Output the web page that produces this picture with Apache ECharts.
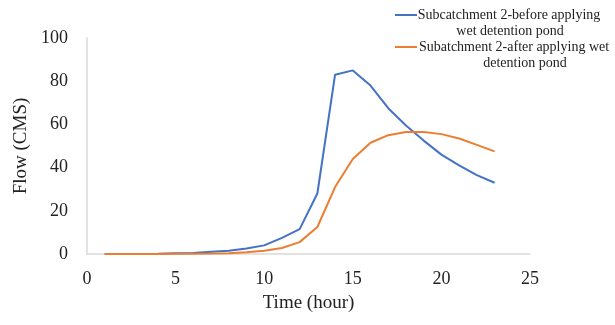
<!DOCTYPE html>
<html><head><meta charset="utf-8">
<script src="https://cdn.jsdelivr.net/npm/echarts@6/dist/echarts.min.js"></script>
<style>html,body{margin:0;padding:0;background:#fff}#c{width:615px;height:325px}</style>
</head><body><div id="c"></div>
<script>
const hours = [1,2,3,4,5,6,7,8,9,10,11,12,13,14,15,16,17,18,19,20,21,22,23];
const before = [0,0,0,0.1,0.3,0.5,1,1.5,2.5,4,7.5,11.5,28,83,85,78,67.5,59.5,52.5,46,41,36.5,33];
const after = [0,0,0,0,0.1,0.1,0.2,0.4,0.8,1.5,2.8,5.5,12.5,31,44,51.5,55,56.5,56.5,55.5,53.5,50.5,47.5];
const seriesNames = ['Subcatchment 2-before applying wet detention pond','Subatchment 2-after applying wet detention pond'];
const legendLines = [['Subcatchment 2-before applying','wet detention pond'],['Subatchment 2-after applying wet','detention pond']];
const colors = ['#4472C4','#ED7D31'];
const font = '"Liberation Serif", "Times New Roman", serif';

const chart = echarts.init(document.getElementById('c'), null, {renderer:'canvas'});
const mk = (vals) => hours.map((h,i)=>[h, vals[i]]);
const lf = '14px ' + font;
chart.setOption({
  animation:false,
  backgroundColor:'#fff',
  grid:{left:87,right:85,top:38,bottom:71},
  xAxis:{type:'value',min:0,max:25,interval:5,name:'Time (hour)',nameLocation:'middle',nameGap:40,
    nameTextStyle:{fontFamily:font,fontSize:19,color:'#222'},
    axisLine:{lineStyle:{color:'#d9d9d9',width:1.5}},axisTick:{show:false},splitLine:{show:false},
    axisLabel:{fontFamily:font,fontSize:18,color:'#222',margin:16}},
  yAxis:{type:'value',min:0,max:100,interval:20,name:'Flow (CMS)',nameLocation:'middle',nameGap:54,
    nameTextStyle:{fontFamily:font,fontSize:19,color:'#222'},
    axisLine:{show:true,lineStyle:{color:'#d9d9d9',width:1.5}},axisTick:{show:false},splitLine:{show:false},
    axisLabel:{fontFamily:font,fontSize:18,color:'#222',margin:19}},
  series:[
    {name:seriesNames[0],type:'line',data:mk(before),showSymbol:false,lineStyle:{color:colors[0],width:2},itemStyle:{color:colors[0]}},
    {name:seriesNames[1],type:'line',data:mk(after),showSymbol:false,lineStyle:{color:colors[1],width:2},itemStyle:{color:colors[1]}}
  ],
  graphic:[
    {type:'line',shape:{x1:395,y1:15,x2:417,y2:15},style:{stroke:colors[0],lineWidth:2}},
    {type:'text',x:509,y:15,style:{text:legendLines[0][0],font:lf,fill:'#222',textAlign:'center',textVerticalAlign:'middle'}},
    {type:'text',x:510,y:31,style:{text:legendLines[0][1],font:lf,fill:'#222',textAlign:'center',textVerticalAlign:'middle'}},
    {type:'line',shape:{x1:395,y1:47,x2:417,y2:47},style:{stroke:colors[1],lineWidth:2}},
    {type:'text',x:419,y:47,style:{text:legendLines[1][0],font:lf,fill:'#222',textAlign:'left',textVerticalAlign:'middle'}},
    {type:'text',x:525,y:63,style:{text:legendLines[1][1],font:lf,fill:'#222',textAlign:'center',textVerticalAlign:'middle'}}
  ]
});
</script></body></html>
